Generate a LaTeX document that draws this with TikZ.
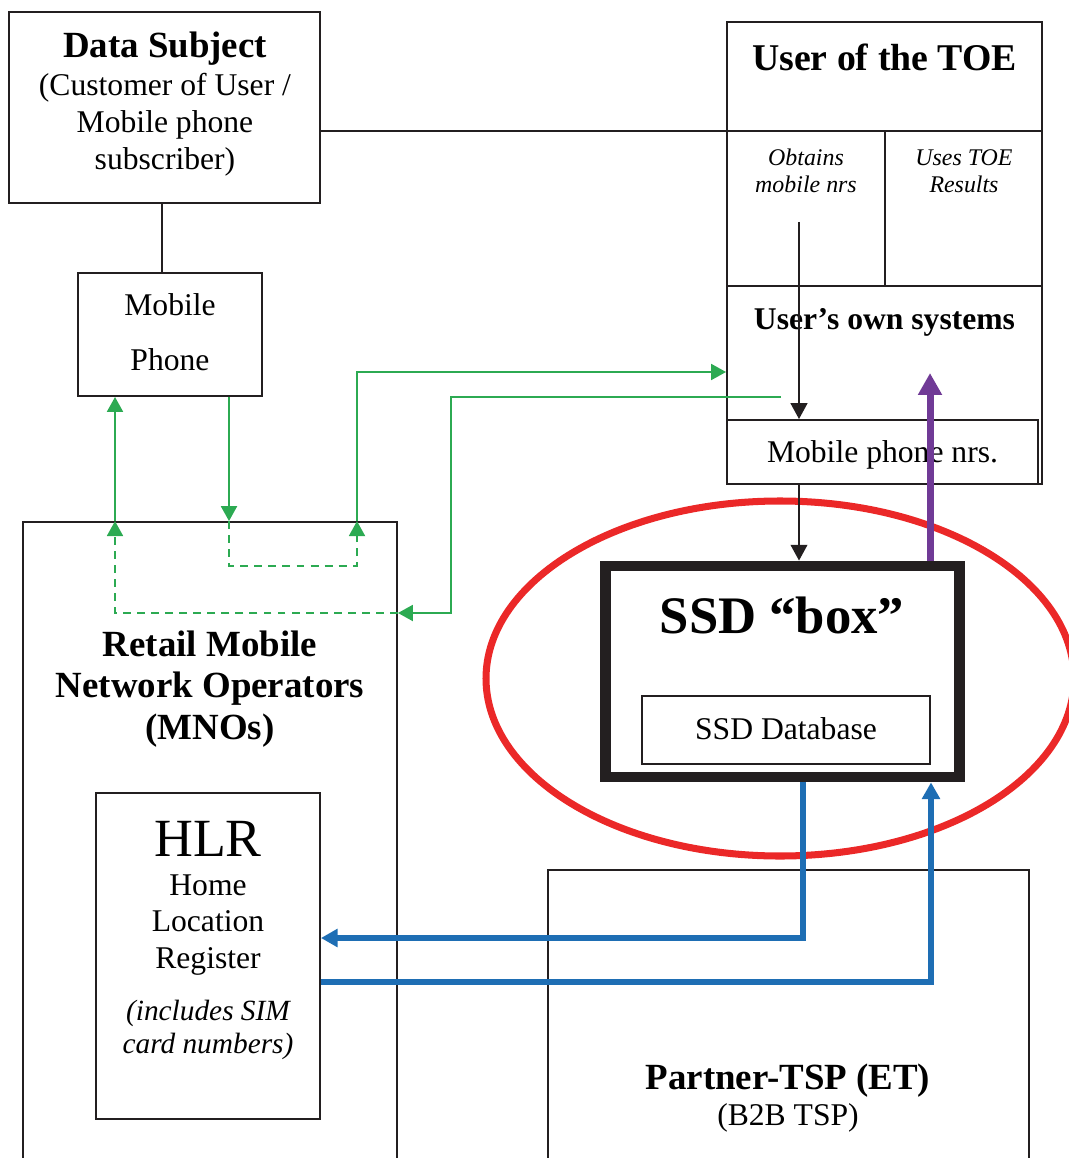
\documentclass[tikz,border=0pt]{standalone}
\usepackage{fontspec}
\setmainfont{Liberation Serif}
\usetikzlibrary{arrows.meta}

\definecolor{flowgreen}{RGB}{44,170,82}
\definecolor{flowblue}{RGB}{30,110,180}
\definecolor{flowpurple}{RGB}{112,58,150}
\definecolor{ringred}{RGB}{235,40,40}
\definecolor{ink}{RGB}{35,31,32}

\begin{document}
\begin{tikzpicture}
		[x=0.02cm,y=-0.02cm,
		box/.style={draw=ink, line width=1.1pt, inner sep=0pt, rectangle},
		heavybox/.style={draw=ink, line width=6.2pt, inner sep=0pt, rectangle},
		label/.style={inner sep=0pt, align=center, text=black},
		thin/.style={draw=ink, line width=1.1pt},
		blackarrow/.style={thin, -{Triangle[length=9pt,width=9.5pt]}},
		greenarrow/.style={draw=flowgreen, line width=1.4pt, -{Triangle[length=8.5pt,width=9pt]}},
		greendash/.style={greenarrow, dash pattern=on 4.5pt off 3.5pt},
		bluearrow/.style={draw=flowblue, line width=3.2pt, -{Triangle[length=9.5pt,width=10pt]}},
		purplearrow/.style={draw=flowpurple, line width=4pt, -{Triangle[length=12.5pt,width=13pt]}},
		ring/.style={draw=ringred, line width=4pt}]

		\useasboundingbox (0,0) rectangle (1068,1158);

		% boxes
		\node[box, minimum width=6.22cm, minimum height=3.82cm] (ds) at (164.5,107.5) {};
		\node[box, minimum width=3.68cm, minimum height=2.46cm] (phone) at (170,334.5) {};
		\node[box, minimum width=6.3cm, minimum height=9.24cm] (user) at (884.5,253) {};
		\node[box, minimum width=6.22cm, minimum height=1.28cm] (nrs) at (882.5,452) {};
		\node[box, minimum width=7.48cm, minimum height=13.06cm] (mno) at (210,848.5) {};
		\node[box, minimum width=4.48cm, minimum height=6.52cm] (hlr) at (208,956) {};
		\node[box, minimum width=9.62cm, minimum height=6.1cm] (tsp) at (788.5,1022.5) {};
		\node[heavybox, minimum width=7.08cm, minimum height=4.22cm] (ssd) at (782.5,671.5) {};
		\node[box, minimum width=5.76cm, minimum height=1.36cm] (ssddb) at (786,730) {};

		% dividers of the user box
		\coordinate (rowA) at (0,131);
		\coordinate (rowB) at (0,286);
		\draw[thin] (ds.east |- rowA) -- (user.east |- rowA);
		\draw[thin] (user.west |- rowB) -- (user.east |- rowB);
		\draw[thin] (885,131) -- (885,286);
		\coordinate (colA) at (162,0);
		\draw[thin] (ds.south -| colA) -- (phone.north -| colA);

		% texts
		\node[label, font=\fontsize{18}{21}\selectfont] (dstxt) at (165,104)
		{\textbf{\fontsize{21}{24}\selectfont Data Subject}\\[1pt] (Customer of User /\\ Mobile phone\\ subscriber)};
		\node[label, font=\fontsize{18}{31}\selectfont] (phonetxt) at (170,332) {Mobile\\ Phone};
		\node[label, font=\fontsize{21.5}{24}\selectfont\bfseries] (usertxt) at (884.5,57) {User of the TOE};
		\node[label, font=\fontsize{13.6}{15.3}\selectfont\itshape] (obtain) at (806,171) {Obtains\\ mobile nrs};
		\node[label, font=\fontsize{13.6}{15.3}\selectfont\itshape] (uses) at (964,171) {Uses TOE\\ Results};
		\node[label, font=\fontsize{18}{21}\selectfont\bfseries] (ownsys) at (884.5,322) {User’s own systems};
		\node[label, font=\fontsize{18}{21}\selectfont] (nrstxt) at (882.5,455) {Mobile phone nrs.};
		\node[label, font=\fontsize{21}{23.8}\selectfont\bfseries] (mnotxt) at (210,689)
		{Retail Mobile\\ Network Operators\\ (MNOs)};
		\node[label, font=\fontsize{30}{34}\selectfont\bfseries] (ssdtxt) at (782,615) {SSD “box”};
		\node[label, font=\fontsize{18}{21}\selectfont] (ssddbtxt) at (786,729) {SSD Database};
		\node[label, font=\fontsize{30.6}{34}\selectfont] (hlrtitle) at (208,839) {HLR};
		\node[label, font=\fontsize{18}{21}\selectfont] (hlrname) at (208,925) {Home\\ Location\\ Register};
		\node[label, font=\fontsize{16.7}{18.7}\selectfont\itshape] (hlrnote) at (208,1030)
		{(includes SIM\\ card numbers)};
		\node[label, font=\fontsize{18}{20.4}\selectfont] (tsptxt) at (788,1098)
		{\textbf{\fontsize{21}{24}\selectfont Partner-TSP (ET)}\\ (B2B TSP)};

		% ring round the SSD box
		\draw[ring] (780,678.5) ellipse [x radius=294, y radius=177.5];

		% black and purple arrows
		\coordinate (obt) at (799,222);
		\draw[blackarrow] (obt) -- (obt |- nrs.north);
		\draw[blackarrow] (nrs.south -| obt) -- (ssd.north -| obt);
		\coordinate (res) at (930,373); % end of the results arrow
		\draw[purplearrow] (ssd.north -| res) -- (res);

		% blue arrows between SSD and HLR
		\draw[bluearrow] (ssd.south -| 803,0) |- (hlr.east |- 0,938);
		\draw[bluearrow] (hlr.east |- 0,982) -| (ssd.south -| 931,0);

		% green arrows
		\draw[greenarrow] (mno.north -| 115,0) -- (phone.south -| 115,0);
		\draw[greenarrow] (phone.south -| 229,0) -- (mno.north -| 229,0);
		\draw[greendash] (mno.north -| 229,0) -- (229,566) -| (mno.north -| 357,0);
		\draw[greenarrow] (mno.north -| 357,0) |- (user.west |- 0,372);
		\coordinate (back) at (781,397);
		\draw[greenarrow] (back) -| (451,613) -- (mno.east |- 0,613);
		\draw[greendash] (mno.east |- 0,613) -| (mno.north -| 115,0);

		\end{tikzpicture}
\end{document}
